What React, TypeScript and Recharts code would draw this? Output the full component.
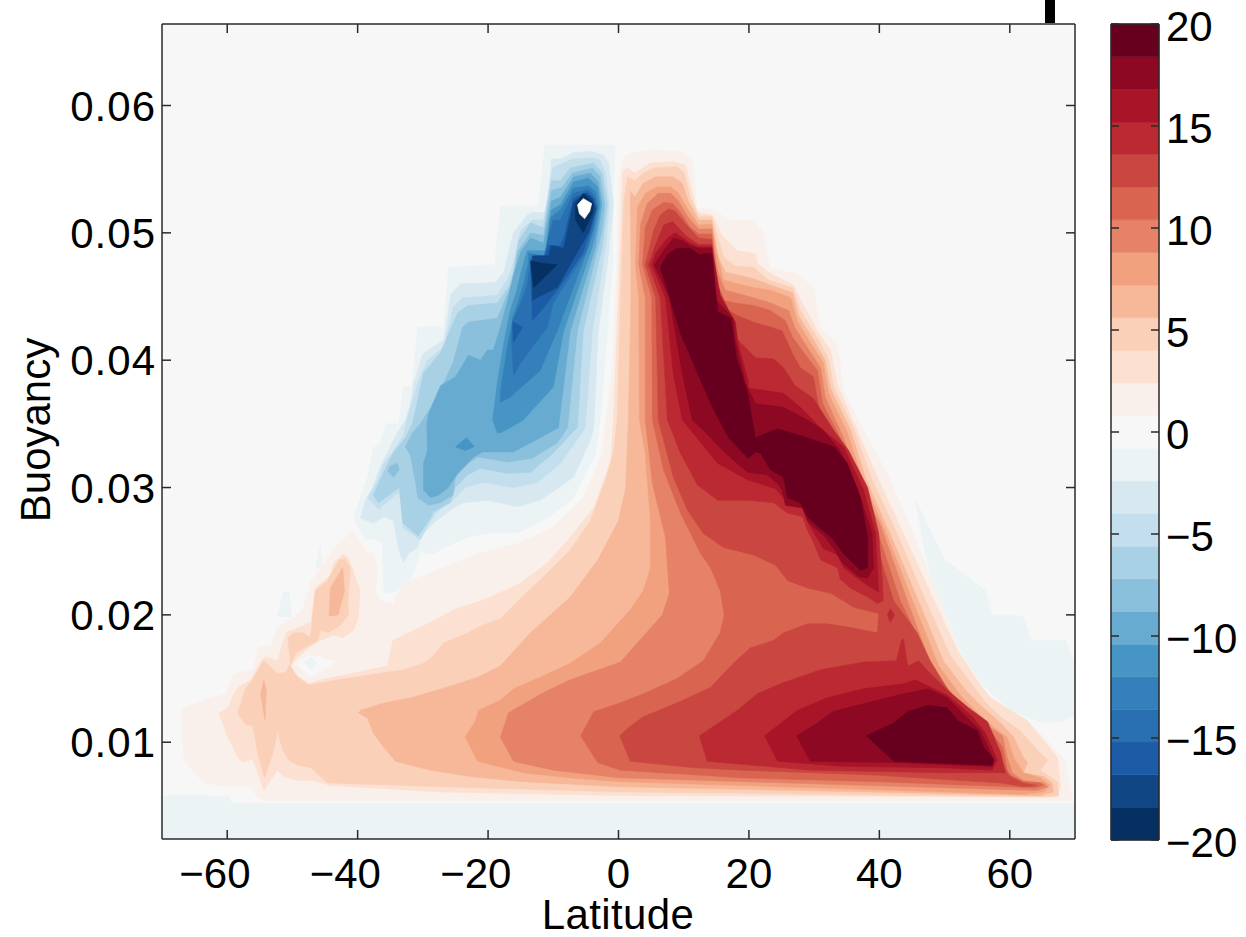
import React from 'react'
import { ScatterChart, Scatter, XAxis, YAxis } from 'recharts'

type Pt = [number, number]

// contour outlines: [latitude, buoyancy x 1000]
const plotFrame: Pt[] = [[-70, 2.4], [70, 2.4], [70, 66.4], [-70, 66.4]]

const negBottom: Pt[] = [[-70, 5.7], [-67.9, 5.9], [-65.6, 5.8], [-64.1, 5.9], [-61.8, 5.7], [-59.8, 5.8], [-59.2, 5.2], [70, 5.2], [70, 2.4], [-70, 2.4]]
const negRight: Pt[] = [[45.4, 29.2], [47.8, 26.6], [50.1, 24.3], [53.2, 23.1], [56.3, 21.9], [57.3, 20], [62.1, 19.9], [63.2, 18], [68.5, 18], [69.8, 16.4], [69.8, 12.1], [67.8, 11.6], [64.7, 11.6], [60.1, 12.5], [56, 14.4], [53.2, 16.4], [50.4, 19.7], [48.6, 21.9], [47.1, 24.7]]
const negSpeckA: Pt[] = [[-45.7, 25.5], [-45.4, 23.7], [-46.5, 23.7]]
const negSpeckB: Pt[] = [[-51.4, 21.8], [-50.5, 21.8], [-50.1, 19.8], [-52.3, 19.9]]

const pos1: Pt[] = [[0.6, 55.7], [1.4, 56.2], [4.9, 56.5], [10, 56.4], [11.3, 55.7], [12.1, 51.9], [14.1, 51.9], [17.2, 51], [20.7, 51], [22.2, 50], [23.3, 47.2], [27.4, 46.8], [29.9, 45.7], [31, 42.6], [33.6, 41.3], [34.5, 37.6], [38.2, 33.9], [41.2, 31.1], [44.8, 26.9], [49.4, 21.1], [50.4, 19.6], [53.2, 16.2], [56, 14.1], [60.1, 12.3], [64.7, 10.7], [68.5, 8.6], [69.6, 5.4], [-53.8, 5.4], [-55.3, 5.6], [-56.4, 6.5], [-59.9, 6.5], [-63.6, 6.8], [-66.7, 8.6], [-67.1, 12.3], [-66.7, 12.7], [-63.6, 13.3], [-60.2, 13.8], [-59, 15.4], [-56.1, 15.7], [-55.2, 17.5], [-53.3, 17.6], [-52.3, 19], [-49.8, 19.8], [-48.4, 20.5], [-47.2, 22.6], [-43.7, 25.2], [-40.8, 26.6], [-38.5, 24.9], [-37.6, 24.8], [-36.9, 23.7], [-37.3, 21.9], [-36.5, 21.1], [-34.6, 20.9], [-33, 22.5], [-28.8, 23.3], [-26.2, 23.9], [-21.6, 24.8], [-15.5, 25.6], [-10, 26.9], [-5.4, 29.2], [-2.5, 32.7], [-2, 35.3], [-0.9, 39.2], [-0.2, 48.6], [0, 54.1]]
const holeGray: Pt[] = [[-49.5, 16.2], [-47.7, 16.8], [-45.7, 16.7], [-43.4, 16.3], [-47.2, 15.1], [-48.4, 15.7]]
const holeBlue: Pt[] = [[-48.3, 16.3], [-47.1, 16.7], [-46.2, 16.2], [-47.1, 15.7]]

const pos2: Pt[] = [[0.8, 54.9], [1.4, 55.1], [2.5, 54.7], [4.9, 55.5], [8.4, 55.6], [10.3, 55.3], [11.5, 52.8], [12.1, 51.6], [14.4, 51.4], [15.9, 49.8], [18.2, 48.6], [21, 48.4], [21.3, 47.6], [23, 46.9], [26.8, 45.9], [28.2, 44.5], [30.5, 42.3], [32.5, 40.8], [33.6, 38], [36.6, 34.5], [39.9, 30.6], [43.7, 26.4], [48.6, 20.9], [52, 17.2], [55, 14.9], [57, 13.5], [62.7, 11.7], [67.3, 8.8], [67.8, 6.5], [67.3, 5.7], [0.3, 5.8], [-27.7, 6.1], [-44.2, 6.6], [-46.8, 7], [-49.2, 7], [-51.4, 7.3], [-52.3, 7.8], [-54.4, 6.2], [-56.1, 8.7], [-57.5, 8.4], [-58.4, 8.8], [-59.9, 10.4], [-61.3, 12.3], [-59.9, 12.7], [-59, 13.8], [-58.3, 14.3], [-56.4, 14.9], [-54.9, 16.3], [-54.1, 16.7], [-52.3, 16.4], [-51, 18.6], [-47.2, 19.4], [-46.5, 22.1], [-44.2, 23.1], [-43.7, 24.1], [-42.2, 24.8], [-41.4, 24.5], [-39.6, 21.9], [-39.9, 19.8], [-40.6, 18.8], [-42.3, 18.2], [-43.7, 18.4], [-45.7, 18], [-47.2, 17.5], [-49.2, 16.7], [-50.3, 16], [-49.5, 15.3], [-47.5, 14.6], [-45.7, 14.9], [-40, 15.5], [-35.4, 16], [-34.6, 18], [-29.3, 19.3], [-25.3, 20.4], [-20.1, 21.3], [-15, 22.5], [-10.9, 24.1], [-7.4, 26.1], [-3.8, 28.4], [-1.2, 32.1], [-0.8, 35.3], [0, 45.5], [0.6, 54.7]]
const pos3: Pt[] = [[1.4, 54.4], [2.5, 54.1], [3.8, 54.7], [5.4, 55.1], [9, 55.2], [10.1, 54.7], [11, 52.8], [12.3, 51.3], [14.3, 51.3], [16.1, 48.1], [17.9, 47.4], [20.7, 47.3], [23, 46.3], [26.7, 45.7], [27.9, 43.9], [30.7, 41.6], [32.2, 40.1], [33, 37.9], [36, 34.7], [38.9, 30.6], [42.8, 26.3], [47.1, 21.1], [50.9, 16.8], [54.3, 14.5], [56.3, 13.1], [58.6, 12], [61.6, 10.9], [64.2, 9.4], [65.8, 8.6], [64.7, 7.8], [67.3, 6.9], [67.5, 5.8], [65.2, 5.7], [0.3, 6.1], [-27.7, 6.5], [-44.6, 6.8], [-47.2, 8], [-49.2, 8.2], [-50.6, 8.6], [-51.5, 9.4], [-52.3, 10.8], [-53, 9.1], [-54.3, 7.2], [-55.3, 9.1], [-56.1, 11.3], [-57.2, 11.4], [-58.4, 12.3], [-57.2, 14.2], [-56.1, 14.9], [-54.4, 16.4], [-52.3, 15.4], [-51, 15.5], [-50.3, 16.2], [-50.7, 18.2], [-49.8, 18.6], [-48.4, 18.6], [-47.5, 18.3], [-47.2, 18.4], [-46.5, 21.9], [-44.6, 22.7], [-42.9, 24.3], [-41.9, 24.4], [-41.1, 23.7], [-41.5, 21.1], [-41.4, 20], [-42.6, 19.2], [-44.5, 18.6], [-45.7, 18.8], [-46.1, 18], [-47.5, 17.6], [-49.5, 17], [-50.3, 16], [-49.2, 15.1], [-47.5, 14.5], [-43.1, 14.9], [-38, 15.3], [-33, 15.7], [-29.9, 16.2], [-28.4, 16.8], [-26.8, 17.8], [-23.1, 18.6], [-20.8, 19.2], [-18.1, 19.7], [-15, 21.3], [-10.9, 23.3], [-7.4, 25.1], [-4.3, 27.4], [-2, 30.6], [-0.8, 32.7], [-0.2, 35.3], [0.3, 44.7], [0.8, 52.5]]
const pos4: Pt[] = [[1.8, 53.3], [2.5, 52.8], [3.8, 53.9], [5.7, 54.4], [8.4, 54.4], [9.8, 53.9], [10.7, 52.5], [12.3, 51], [14.3, 51], [15.3, 48.1], [16.4, 46.9], [18.2, 46.7], [20.7, 46.4], [23.3, 45.9], [26.7, 45.3], [27.6, 43.5], [29.9, 41.6], [31.7, 40], [32.5, 37.8], [35.6, 34.5], [38, 30.6], [41.7, 26.3], [46, 21.1], [49.8, 16.4], [53.2, 14.1], [55.5, 12.9], [58.6, 11.5], [60.6, 10.4], [62.1, 8.8], [62.7, 8.4], [62.1, 7.6], [65.2, 7.3], [66.5, 6.8], [66.7, 6.1], [64.7, 5.8], [0.3, 6.5], [-14.6, 6.9], [-22.7, 7.3], [-28.8, 7.8], [-34.2, 8.5], [-36, 9.6], [-37.6, 10.7], [-38.5, 11.9], [-39.9, 12.3], [-39.6, 12.5], [-36.5, 13], [-33.9, 13.3], [-31.9, 13.5], [-27.7, 14.1], [-25.3, 14.5], [-21.6, 15.1], [-18.1, 16], [-13.5, 18.6], [-7.4, 21.4], [-3.2, 24.3], [0, 27.4], [1.1, 30], [1.5, 35.3], [1.9, 44.7], [1.9, 47.5]]
const pos4Upper: Pt[] = [[-42.3, 23.7], [-42, 21.9], [-43, 20], [-44.4, 19.9], [-44.2, 22.1]]
const pos4Lower: Pt[] = [[-54.4, 14.9], [-54, 14.1], [-54.2, 11.7], [-54.9, 13.8]]
const pos5: Pt[] = [[2.9, 52], [4.1, 53.1], [6, 53.6], [8, 53.6], [9.2, 53.1], [10.7, 51.8], [12.3, 50.6], [14.3, 50.7], [15, 48.6], [16.1, 46.3], [18.2, 46], [20.7, 45.7], [23.3, 45.5], [26.4, 44.9], [27.4, 43.1], [29.4, 41.4], [31.4, 39.8], [32.2, 37.4], [35.1, 34.3], [37.4, 30.7], [40.9, 26.6], [45.1, 21.1], [49.1, 16], [52.4, 13.7], [54.7, 12.5], [57.5, 11.2], [59.6, 10.4], [60.6, 8.8], [62.1, 7.6], [64.7, 7.2], [66.2, 6.6], [65.2, 6.1], [62.1, 5.9], [0.3, 6.9], [-7.4, 7.2], [-14.6, 7.6], [-21.6, 8.5], [-23.5, 10.4], [-21.9, 11.7], [-21.5, 12.5], [-18.1, 13.3], [-16.1, 14.2], [-12, 15.1], [-7.4, 16.2], [-2.8, 17.8], [1.8, 20.4], [3.8, 21.9], [4.9, 23.7], [4.9, 27.4], [4.1, 32.7], [3.2, 35.3], [3.1, 44.9], [2.6, 47.5]]
const pos6: Pt[] = [[3.4, 50.7], [4.4, 52.3], [6.1, 53.1], [8, 53.1], [9.2, 52.5], [10.7, 51.2], [12.3, 50.3], [14.3, 50.3], [15, 47.6], [15.3, 46.8], [16.4, 45.5], [17.9, 45.3], [20.7, 44.9], [23.3, 44.5], [26.1, 43.9], [27.1, 42.5], [29.1, 40.9], [31, 39.4], [31.7, 37.1], [34.5, 33.9], [36.8, 30.6], [40.2, 27], [44.3, 21.1], [48.1, 15.8], [51.7, 13.3], [54, 12.1], [56.6, 11.3], [58.9, 10.5], [59.6, 8.8], [60.4, 7.6], [62.1, 7], [65.2, 6.8], [65.8, 6.5], [64.2, 6.2], [0.3, 7.2], [-10, 7.8], [-16.1, 8.5], [-18.1, 10.4], [-16.9, 12.3], [-11.5, 13.9], [-7.4, 14.9], [0.3, 16.3], [6.7, 20], [7.8, 21.7], [7.2, 26.1], [5.2, 30.3], [4.1, 35.3], [4.1, 44.9], [3.1, 47.5]]
const pos7: Pt[] = [[4.1, 50.4], [5.2, 51.8], [6.9, 52.4], [8.3, 52.3], [9.5, 51.6], [11, 50.4], [12.3, 49.9], [14.3, 49.9], [15.2, 46], [15.9, 44.7], [17.9, 44.5], [20.7, 44.3], [23.3, 43.9], [25.6, 43.1], [26.7, 41.8], [28.7, 40.4], [30.5, 39.2], [31.3, 36.6], [34, 33.9], [36.3, 30.6], [39.4, 27], [43.2, 21.1], [47.4, 16.7], [49.8, 14.6], [52.4, 13.1], [55, 12], [57, 10.9], [58.9, 9.6], [59.6, 7.8], [60.1, 7.4], [62.1, 6.9], [64.7, 6.8], [65.2, 6.6], [63.6, 6.4], [60.1, 6.5], [39.7, 6.9], [19.2, 7.2], [0.3, 7.8], [-3.2, 8.4], [-5.8, 10.5], [-3.8, 12.4], [0.3, 13.1], [3.8, 13.8], [9, 15], [13, 16.4], [15.6, 18.6], [16.2, 20], [15.6, 21.9], [14.1, 23.7], [12.6, 24.8], [9.5, 28], [6.9, 31.4], [5.2, 35.3], [5.1, 44.9], [3.7, 47.5]]
const pos8: Pt[] = [[5.4, 50.2], [6.4, 51.4], [7.7, 51.9], [8.7, 51.7], [10.3, 50.7], [12.3, 49.6], [14.3, 49.5], [15, 46.1], [16.9, 43.9], [18.2, 43.5], [20.7, 43], [23.3, 42.6], [25.1, 42.3], [26.7, 40.5], [27.9, 39.4], [29.9, 38.7], [30.7, 36.3], [33.6, 33.9], [35.9, 30.6], [38.6, 27], [42.2, 21.1], [45.8, 18.6], [47.8, 16.4], [50.9, 13.8], [54, 12.3], [55.8, 11.5], [58.1, 9.4], [59.6, 7.6], [60.1, 7.3], [62.1, 6.8], [64.2, 6.6], [62.1, 6.5], [58.6, 6.8], [39.7, 7.4], [19.2, 7.8], [11.5, 8], [1.8, 8.5], [0.2, 10.5], [1.4, 11.1], [3.8, 12], [9, 13.1], [14.1, 14.3], [17.6, 16.2], [20.2, 17.4], [23.8, 18], [25.3, 18.6], [29, 19.3], [32, 19.3], [35.6, 19], [39.7, 18.6], [39.9, 20.1], [36, 20.6], [34.5, 21.1], [32.5, 21.7], [29, 22.1], [25.9, 22.7], [24.1, 23.9], [20.7, 24.7], [16.1, 25.3], [13, 26.4], [10.6, 28.2], [8.4, 30.8], [6.1, 35.3], [5.7, 44.9], [4.1, 47.5]]
const pos9Upper: Pt[] = [[5.8, 49.2], [6.9, 50.6], [8.3, 50.9], [10.3, 49.8], [12.3, 49.1], [14.3, 49.1], [15, 45.5], [17.3, 43], [17.9, 41.8], [21, 40.2], [23.8, 40.1], [25.3, 39.4], [27.1, 38], [29.9, 37], [33, 34.5], [35.3, 32.9], [38.2, 30], [39.9, 26.4], [40.5, 22.5], [40.6, 21.1], [39.7, 20.9], [38.2, 21.4], [35.6, 22.1], [34, 22.8], [33.6, 23.7], [31, 24.3], [29.9, 25.7], [29, 26.6], [28.2, 27.7], [25.9, 28], [23.8, 28.8], [19.8, 29], [15.2, 29], [12.1, 30.2], [9.5, 32.7], [7.5, 35.3], [6.4, 44.9], [4.6, 47.5]]
const pos9Diamond: Pt[] = [[41.7, 20.5], [42.3, 20], [41.7, 19.4], [41.2, 20]]
const pos9Lower: Pt[] = [[12.4, 10.5], [13.6, 8.5], [29.4, 7.8], [49.8, 7.6], [59.3, 7.6], [58.6, 9.2], [56.6, 11.6], [53.7, 12.7], [50.4, 14.1], [47.8, 15.4], [46, 16.4], [44.5, 16], [44.3, 16.2], [43.7, 18.1], [43.4, 18], [42.6, 16.4], [37.6, 16.3], [31, 15.7], [24.8, 14.6], [21.3, 13.8], [18.2, 12.5]]
const pos10Upper: Pt[] = [[5.7, 48.4], [7.5, 49.6], [8.7, 50], [10.7, 49.3], [12.3, 48.9], [14.3, 48.9], [15.6, 45.1], [17.9, 43], [18.4, 41.2], [19.9, 38.4], [19.9, 37.8], [22.8, 37.6], [25.3, 37.4], [27.9, 36.3], [31.4, 34.5], [34.5, 33.2], [37.6, 29.8], [39.4, 26.4], [39.9, 21.8], [38.2, 22.3], [36.3, 23], [34.5, 23.7], [33.6, 24.7], [31.4, 25.2], [29.9, 26.5], [29, 27.3], [28.2, 28.4], [25.6, 29], [24.1, 29.9], [19.8, 30.6], [15.2, 31.9], [9.8, 35.3], [8.4, 38.9], [7.2, 44.9], [5.1, 47.5]]
const pos10Lower: Pt[] = [[22.4, 10.5], [24.4, 8.5], [34.5, 8.1], [49.8, 8], [57.3, 7.8], [58.1, 8.6], [56.3, 10.7], [54.3, 12], [50.4, 13.7], [45.5, 14.9], [43.7, 14.6], [37.6, 14.2], [32, 13.5], [27.4, 12.5], [24.4, 11.3]]
const pos11Upper: Pt[] = [[5.5, 47.5], [6.9, 48.6], [8.4, 49.6], [9.8, 49.4], [11, 49], [12.3, 48.8], [14.3, 48.8], [15, 44.7], [17.6, 43.3], [17.9, 41.6], [19.5, 38.2], [21, 36.6], [25.3, 36.3], [29, 35.3], [31.4, 34.5], [34, 32.9], [36.6, 30], [38.9, 26.4], [39.1, 23.7], [38.2, 22.9], [36.8, 23], [34.3, 24.1], [33, 25.2], [31.4, 26.3], [29.9, 26.9], [29, 27.4], [28.2, 28.4], [25.6, 28.6], [25.1, 29.8], [24.4, 30.3], [22.8, 31], [19.8, 31.2], [16.4, 32.7], [13, 34.5], [11.3, 35.3], [9.8, 38.9], [7.8, 44.9]]
const pos11Lower: Pt[] = [[27.3, 10.5], [29.4, 8.5], [42.2, 8.4], [57.3, 8.1], [57.5, 8.7], [55.5, 10.9], [50.4, 13.5], [47.5, 14.2], [43.7, 13.8], [38.2, 13.1], [32.8, 12.4], [30.5, 11.5]]
const pos12Upper: Pt[] = [[6.4, 47.3], [7.5, 48.3], [9, 48.8], [11, 48.8], [12.3, 48.3], [14.3, 48.4], [15.2, 43.8], [17.2, 43.3], [18.1, 40.2], [19.8, 37.4], [21, 33.9], [22.8, 34.3], [24.4, 34.6], [29, 33.9], [33, 33.2], [35.1, 31.9], [37.1, 29.2], [38.2, 26.1], [38.2, 23.7], [37.1, 23.5], [34.5, 24.8], [32.8, 26], [30.7, 26.9], [29, 27.7], [27.9, 28.8], [25.9, 29.2], [25.3, 30.8], [23.3, 31.4], [21.8, 32.7], [21, 32.8], [19.9, 32.3], [16.9, 33.9], [14.6, 36.1], [12.1, 39], [9.5, 42.1], [8, 44.7]]
const pos12Lower: Pt[] = [[38, 10.5], [42.2, 8.5], [57.3, 8.2], [57.6, 8.6], [56, 9.6], [55, 10.9], [52, 11.7], [50.4, 12.7], [47.5, 12.9], [44.3, 12.4], [42.2, 11.5]]

const neg1: Pt[] = [[-11.3, 56.9], [-0.5, 56.9], [-0.8, 52.2], [-0.9, 47.6], [-1.7, 42.3], [-2.8, 35.3], [-3.5, 32.7], [-6.9, 29.2], [-10.9, 27.6], [-15, 26.5], [-20.1, 26.4], [-23.1, 26.1], [-25.7, 25.5], [-28.4, 24.8], [-30.4, 24.9], [-30.8, 24.1], [-32.2, 22.6], [-33, 22.5], [-34.2, 21.8], [-36, 21.7], [-36.2, 25.6], [-37.6, 26], [-38.8, 25.9], [-40.6, 27.6], [-39.6, 29.2], [-38.5, 30.8], [-37.6, 33.1], [-36.5, 33.5], [-35.7, 35], [-33.7, 35], [-33, 37.9], [-31.7, 37.9], [-30.8, 42.6], [-26.8, 42.6], [-26.1, 47.3], [-19, 47.5], [-18.1, 52.1], [-12.3, 52.1]]
const neg2: Pt[] = [[-10.3, 55.8], [-8.9, 55.8], [-6.9, 56.3], [-4.3, 56.4], [-2.3, 56.1], [-1.5, 55.5], [-0.8, 52.2], [-1.5, 48.4], [-3.1, 42.3], [-3.8, 34.7], [-4.3, 33.7], [-6.9, 30.8], [-12, 29], [-15.5, 28.5], [-20.1, 29], [-23.8, 28.8], [-25.3, 28.4], [-28.4, 27.2], [-30.4, 26.1], [-30.8, 25.3], [-32.2, 24.8], [-33, 24.1], [-33.7, 25.1], [-34.5, 27.4], [-36, 27.7], [-37.6, 27.2], [-39.6, 27.6], [-38.8, 29], [-37.7, 30], [-36.5, 31.7], [-33.9, 34.3], [-32.7, 35.3], [-31.9, 36.6], [-31.4, 38.2], [-30, 40.5], [-26.8, 41.6], [-25.7, 45.2], [-24.2, 46], [-18.9, 46.1], [-17.6, 46.9], [-16.1, 50], [-14, 51.4], [-13.2, 51.6], [-10.9, 51.6]]
const neg3: Pt[] = [[-10.1, 55.1], [-8.4, 55.5], [-7.1, 55.8], [-4, 55.9], [-2.8, 55.7], [-2, 54.7], [-1.4, 52.2], [-2, 48.9], [-4, 42.3], [-5.1, 34.7], [-6.1, 33.9], [-8.9, 31.9], [-12.4, 30.4], [-16.1, 30], [-20.8, 30.4], [-23.5, 30], [-25.4, 29], [-27.6, 28.2], [-28.8, 27.4], [-30.4, 25.9], [-33, 26.8], [-33.4, 29], [-33.7, 29.6], [-36.8, 28.3], [-38.4, 29.2], [-36.9, 30.6], [-36, 31.9], [-34.6, 32.8], [-33, 34.1], [-32.2, 35.8], [-30.8, 38.2], [-29.3, 40], [-26.8, 41], [-25.3, 44.2], [-23.9, 44.9], [-18.6, 45.1], [-17, 46.4], [-16.1, 47.7], [-15, 50.2], [-13.2, 51], [-11.5, 51]]
const neg4: Pt[] = [[-10.3, 54.1], [-8.9, 54.1], [-7.4, 55.1], [-3.8, 55.5], [-2.5, 54.7], [-1.7, 52.2], [-2.5, 48.9], [-5.4, 42.3], [-6.3, 34.7], [-7.1, 34.3], [-10, 32.7], [-13.5, 31.2], [-17, 31.1], [-21.2, 31.5], [-23.1, 31], [-25, 30], [-25.8, 28.8], [-28.4, 28.1], [-28.8, 27.6], [-30.7, 26.2], [-33.1, 27.2], [-33.6, 30], [-36.8, 28.8], [-37.6, 29.4], [-36.2, 31], [-34.6, 32.7], [-32.7, 33.9], [-31.6, 35], [-30.7, 37.1], [-29.9, 39], [-27.3, 40.6], [-24.7, 43.7], [-23.1, 44.3], [-18.6, 44.5], [-16.9, 45.7], [-16.1, 47], [-15.3, 49.4], [-13.5, 50.8], [-11.5, 50.4]]
const neg5: Pt[] = [[-10.3, 53.3], [-8.6, 53.6], [-7.1, 54.7], [-4, 55.1], [-2.8, 54.4], [-2.1, 52.2], [-2.5, 50.2], [-3.1, 48.9], [-6.3, 42.3], [-7.8, 34.7], [-9.4, 33.5], [-13.2, 32.3], [-17, 32], [-21.6, 32.4], [-23, 31.9], [-25, 30.8], [-25.4, 29.4], [-27.3, 28.8], [-29.1, 28.6], [-30.8, 29.2], [-31.1, 30.3], [-31.9, 32.5], [-32.7, 33.2], [-31.6, 34.3], [-30.4, 35], [-28.8, 36.3], [-27.7, 37.4], [-27, 38], [-25.4, 39.8], [-23.9, 42.6], [-23, 43], [-18.6, 43.3], [-17.6, 44.5], [-16.1, 46.3], [-15.5, 48.5], [-13.5, 50], [-11.5, 49.8]]
const neg5Speck: Pt[] = [[-35, 31.7], [-33.9, 31.9], [-33.6, 31.4], [-34.5, 30.8], [-35.4, 31.3]]
const neg6: Pt[] = [[-10.3, 52.5], [-8.9, 52.8], [-6.9, 54.4], [-4.3, 54.7], [-3.1, 54], [-2.5, 52.2], [-3.1, 50.2], [-3.5, 48.9], [-7.4, 42.3], [-9.2, 34.7], [-12, 33.9], [-16.1, 32.8], [-20.8, 32.8], [-22.2, 32.4], [-24.7, 31.1], [-26.1, 30], [-27.6, 29.4], [-28.8, 29.2], [-29.9, 29.8], [-29.9, 31.9], [-29.3, 32.9], [-29.4, 35], [-29.1, 35.8], [-27.3, 38], [-25, 38.7], [-23, 40.4], [-21.2, 40], [-20.1, 40.8], [-19.2, 40.8], [-18.1, 42.6], [-17, 44.7], [-16.1, 46.7], [-15, 48.5], [-13.5, 49.6], [-11.5, 49.2]]
const neg7: Pt[] = [[-10.3, 51.8], [-8.9, 52.2], [-6.9, 54], [-4.6, 54.3], [-3.2, 53.6], [-2.8, 52.2], [-3.4, 50.2], [-4, 48.9], [-8.4, 42.3], [-10, 37.9], [-14.6, 35.3], [-16.6, 34.7], [-18.1, 34.3], [-18.6, 34.3], [-19.3, 35.3], [-18.6, 38.2], [-17.6, 41.3], [-16.6, 43.9], [-15.6, 45.5], [-14.9, 47], [-14, 48.6], [-11.2, 48.6]]
const neg7Speck: Pt[] = [[-25, 33.2], [-23.3, 33.9], [-22.1, 33.2], [-23.5, 32.9]]
const neg8: Pt[] = [[-18.1, 36.7], [-18.1, 37.6], [-17.3, 40.2], [-16.2, 43.4], [-15.3, 44.7], [-14.4, 46.3], [-13.8, 47.7], [-13.8, 48.4], [-11.2, 48.2], [-10.4, 51.2], [-8.9, 51.8], [-6.9, 53.5], [-4.6, 53.7], [-3.5, 53.2], [-3.1, 52.2], [-3.8, 50.2], [-4.6, 48.9], [-9.4, 42.3], [-12, 39.2], [-16.6, 37.1]]
const neg9: Pt[] = [[-16.1, 38.8], [-16.4, 41.6], [-16.2, 43.1], [-15, 44.5], [-14, 45.9], [-13.5, 47.7], [-13.5, 48], [-11.5, 48], [-10.7, 49.7], [-10, 51], [-8.9, 51], [-6.9, 53.1], [-4.6, 53.4], [-3.7, 52.9], [-3.2, 52], [-4, 50.2], [-5.1, 48.4], [-10, 44.5], [-10.9, 42.6], [-15, 39.8]]
const neg10: Pt[] = [[-13.2, 43.1], [-13.3, 44.9], [-13.5, 47.7], [-11.5, 47.7], [-10.7, 49], [-8.9, 49], [-8.4, 49.6], [-6.9, 52.7], [-4.8, 53.2], [-3.8, 52.7], [-3.4, 51.9], [-4.3, 50.2], [-5.5, 48.4], [-9.4, 45.5], [-12, 43.8]]
const neg10Speck: Pt[] = [[-16.2, 43], [-14.7, 42.6], [-16.1, 41.4], [-16.2, 42.4]]
const neg11: Pt[] = [[-13.2, 44.7], [-13.3, 47.6], [-13.2, 48.2], [-10.7, 48.2], [-10.3, 49], [-8.4, 48.8], [-7.8, 50.2], [-6.9, 52.4], [-5.1, 53.1], [-4, 52.7], [-3.5, 51.9], [-4.6, 50], [-6.3, 48.5], [-9.4, 45.7]]
const neg12Left: Pt[] = [[-13.5, 47.8], [-11.5, 47.6], [-9.4, 47.5], [-13, 45.7], [-13.3, 46.8]]
const neg12Right: Pt[] = [[-6.6, 52.2], [-5.4, 53.1], [-3.8, 52.3], [-4, 51.5], [-5.4, 50], [-6.6, 51]]
const blankPeak: Pt[] = [[-6.3, 52.2], [-5.4, 52.7], [-4.1, 52.3], [-4.4, 51.7], [-5.2, 51.1], [-6, 51.5]]

// 25 colour bands, lowest first
const bandColors = [
  '#053061', '#114685', '#1c5ba6', '#2870b1', '#3480ba', '#4695c4', '#68abd0', '#8bc0dd', '#a9d1e5', '#c3dfed', '#d7e8f1', '#ebf3f5',
  '#f7f7f7',
  '#f9f0eb', '#fce0d1', '#fbd0b9', '#f7b799', '#f2a17f', '#e58268', '#d96550', '#ca4741', '#bb2a33', '#a81529', '#8c0823', '#67001f',
]
const bandEdges = [-20, -18.4, -16.8, -15.2, -13.6, -12, -10.4, -8.8, -7.2, -5.6, -4, -2.4, -0.8, 0.8, 2.4, 4, 5.6, 7.2, 8.8, 10.4, 12, 13.6, 15.2, 16.8, 18.4, 20]

const latTicks = [-60, -40, -20, 0, 20, 40, 60]
const buoyancyTicks = [0.01, 0.02, 0.03, 0.04, 0.05, 0.06]
const barTicks = [-20, -15, -10, -5, 0, 5, 10, 15, 20]

const band = (v: number) => bandColors[v + 12]
const layers: [Pt[], string][] = [
  [plotFrame, band(0)],
  [negBottom, band(-1)], [negRight, band(-1)], [negSpeckA, band(-1)], [negSpeckB, band(-1)],
  [pos1, band(1)], [holeGray, band(0)], [holeBlue, band(-1)],
  [pos2, band(2)], [pos3, band(3)], [pos4, band(4)], [pos4Upper, band(4)], [pos4Lower, band(4)],
  [pos5, band(5)], [pos6, band(6)], [pos7, band(7)], [pos8, band(8)],
  [pos9Upper, band(9)], [pos9Diamond, band(9)], [pos9Lower, band(9)],
  [pos10Upper, band(10)], [pos10Lower, band(10)],
  [pos11Upper, band(11)], [pos11Lower, band(11)],
  [pos12Upper, band(12)], [pos12Lower, band(12)],
  [neg1, band(-1)], [neg2, band(-2)], [neg3, band(-3)], [neg4, band(-4)], [neg5, band(-5)], [neg5Speck, band(-5)],
  [neg6, band(-6)], [neg7, band(-7)], [neg7Speck, band(-7)], [neg8, band(-8)], [neg9, band(-9)],
  [neg10, band(-10)], [neg10Speck, band(-10)], [neg11, band(-11)], [neg12Left, band(-12)], [neg12Right, band(-12)],
  [blankPeak, '#ffffff'],
]

const FONT = '"Liberation Sans", Arial, sans-serif'
const FONT_SIZE = 42
const FRAME = '#2a2a2a'
const noDot = () => null
const NoLabel = () => <g />

const toRows = (pts: Pt[]) => pts.map(([lat, b]) => ({ lat, buoyancy: b / 1000 }))
const signed = (v: number) => (v < 0 ? `\u2212${-v}` : String(v))

// minus sign hangs off to the left, digits stay centred on the tick
function LatTick({ x, payload }: any) {
  const v = payload.value
  const digits = String(Math.abs(v)).length * 0.556 * FONT_SIZE
  return (
    <text x={x + digits / 2} y={888} textAnchor="end" fontFamily={FONT} fontSize={FONT_SIZE} fill="#000">
      {signed(v)}
    </text>
  )
}

function BuoyancyTick({ y, payload }: any) {
  return (
    <text x={156} y={y + 15} textAnchor="end" fontFamily={FONT} fontSize={FONT_SIZE} letterSpacing={1} fill="#000">
      {payload.value.toFixed(2)}
    </text>
  )
}

function BarTick({ y, payload }: any) {
  return (
    <text x={56} y={y + 17} textAnchor="start" fontFamily={FONT} fontSize={FONT_SIZE} fill="#000">
      {signed(payload.value)}
    </text>
  )
}

const LatitudeLabel = () => (
  <text x={618} y={929} textAnchor="middle" fontFamily={FONT} fontSize={FONT_SIZE} letterSpacing={0.4} fill="#000">Latitude</text>
)
const BuoyancyLabel = () => (
  <text transform="translate(50 430) rotate(-90)" textAnchor="middle" fontFamily={FONT} fontSize={FONT_SIZE} fill="#000">Buoyancy</text>
)

export default function App() {
  return (
    <div style={{ position: 'absolute', left: 0, top: 0, width: 1246, height: 937, background: '#fff' }}>
      <ScatterChart width={1246} height={937} margin={{ top: 23, right: 170, bottom: 0, left: 0 }} style={{ position: 'absolute', left: 0, top: 0 }}>
        <XAxis type="number" dataKey="lat" domain={[-70, 70]} ticks={latTicks} height={98} tickSize={-9} tick={<LatTick />} stroke={FRAME} strokeWidth={1.5} interval={0} label={<LatitudeLabel />} />
        <XAxis xAxisId="top" orientation="top" type="number" dataKey="lat" domain={[-70, 70]} ticks={latTicks} height={1} tickSize={-9} tick={<NoLabel />} stroke={FRAME} strokeWidth={1.5} interval={0} />
        <YAxis type="number" dataKey="buoyancy" domain={[0.0024, 0.0664]} ticks={buoyancyTicks} width={162} tickSize={-9} tick={<BuoyancyTick />} stroke={FRAME} strokeWidth={1.5} interval={0} label={<BuoyancyLabel />} />
        <YAxis yAxisId="right" orientation="right" type="number" dataKey="buoyancy" domain={[0.0024, 0.0664]} ticks={buoyancyTicks} width={1} tickSize={-9} tick={<NoLabel />} stroke={FRAME} strokeWidth={1.5} interval={0} />
        {layers.map(([pts, color], i) => (
          <Scatter key={i} data={toRows(pts)} isAnimationActive={false} fill={color} shape={noDot} zIndex={100}
            line={{ fill: color, stroke: color, strokeWidth: 0.5 }} lineJointType="linearClosed" />
        ))}
        {/* no marks: only ties the top and right axes to a series so they get their ticks */}
        <Scatter xAxisId="top" yAxisId="right" data={toRows(plotFrame)} isAnimationActive={false} shape={noDot} zIndex={100} />
      </ScatterChart>

      <ScatterChart width={136} height={937} margin={{ top: 23, right: 86, bottom: 96, left: 0 }} style={{ position: 'absolute', left: 1110, top: 0 }}>
        <XAxis xAxisId="b" type="number" dataKey="pos" orientation="bottom" domain={[0, 1]} ticks={[0, 1]} height={1} tick={<NoLabel />} tickLine={false} stroke={FRAME} strokeWidth={1.5} />
        <XAxis xAxisId="t" type="number" dataKey="pos" orientation="top" domain={[0, 1]} ticks={[0, 1]} height={1} tick={<NoLabel />} tickLine={false} stroke={FRAME} strokeWidth={1.5} />
        <YAxis yAxisId="l" type="number" dataKey="level" orientation="left" domain={[-20, 20]} ticks={barTicks} width={1} tickSize={-8} tick={<NoLabel />} stroke={FRAME} strokeWidth={1.5} interval={0} />
        <YAxis yAxisId="r" type="number" dataKey="level" orientation="right" domain={[-20, 20]} ticks={barTicks} width={1} tickSize={-8} tick={<BarTick />} stroke={FRAME} strokeWidth={1.5} interval={0} />
        {bandColors.map((c, i) => (
          <Scatter key={c} xAxisId="b" yAxisId="l" isAnimationActive={false} fill={c} shape={noDot} zIndex={100}
            data={[[0, bandEdges[i]], [1, bandEdges[i]], [1, bandEdges[i + 1]], [0, bandEdges[i + 1]]].map(([pos, level]) => ({ pos, level }))}
            line={{ fill: c, stroke: c, strokeWidth: 0.5 }} lineJointType="linearClosed" />
        ))}
        {/* no marks: only ties the top and right axes to a series so they get their ticks */}
        <Scatter xAxisId="t" yAxisId="r" isAnimationActive={false} shape={noDot} zIndex={100} data={[{ pos: 0, level: -20 }, { pos: 1, level: 20 }]} />
      </ScatterChart>

      <div style={{ position: 'absolute', left: 1045, top: 0, width: 10, height: 23, background: '#000' }} />
    </div>
  )
}
